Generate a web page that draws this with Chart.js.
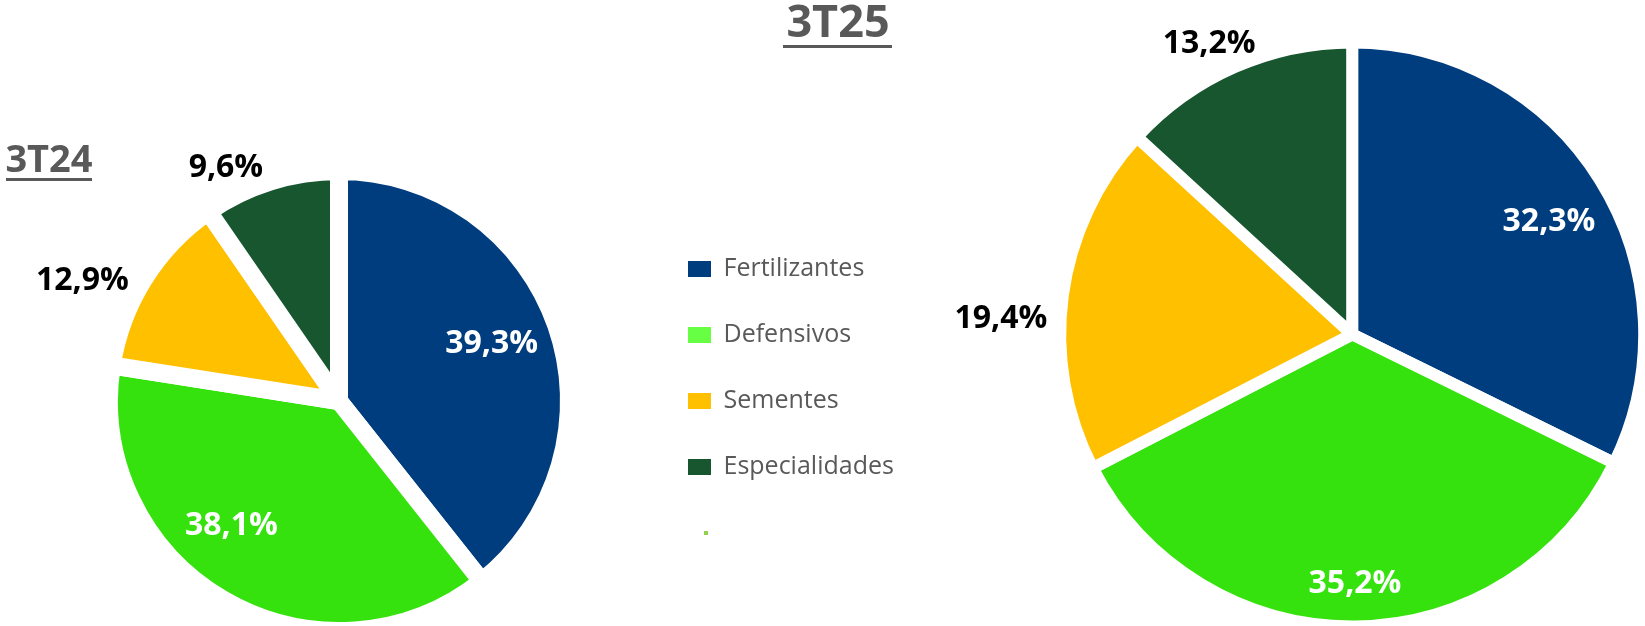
<!DOCTYPE html>
<html lang="pt-BR">
<head>
<meta charset="utf-8">
<title>3T24 x 3T25</title>
<script src="https://cdn.jsdelivr.net/npm/chart.js@4.4.1/dist/chart.umd.min.js"></script>
<style>
  html, body { margin: 0; padding: 0; background: #fff; }
  #stage { position: relative; width: 1645px; height: 626px; overflow: hidden; font-family: 'Open Sans', sans-serif; }
  #stage canvas { position: absolute; top: 0; }
  #pie24 { left: 0; }
  #pie25 { left: 900px; }
  .period { position: absolute; color: #595959; font-weight: 700; text-align: center; white-space: nowrap; }
  .period-line { position: absolute; height: 3px; background: #595959; }
  #title24 { left: 0; top: 138px; width: 98px; font-size: 38px; line-height: 38px; }
  #line24 { left: 6px; top: 178px; width: 86px; }
  #title25 { left: 738px; top: -3px; width: 200px; font-size: 45px; line-height: 45px; }
  #line25 { left: 783px; top: 45px; width: 109px; }
</style>
</head>
<body>
<div id="stage">
  <canvas id="pie24" width="960" height="626"></canvas>
  <canvas id="pie25" width="745" height="626"></canvas>
  <div class="period" id="title24">3T24</div>
  <div class="period-line" id="line24"></div>
  <div class="period" id="title25">3T25</div>
  <div class="period-line" id="line25"></div>
</div>
<script>
// data (share of revenue, %)
const categories = ['Fertilizantes', 'Defensivos', 'Sementes', 'Especialidades'];
const share3T24 = [39.3, 38.1, 12.9, 9.6];
const share3T25 = [32.3, 35.2, 19.4, 13.2];

const sliceColors = ['#003D7E', '#35E20D', '#FFC000', '#17562F'];
const legendColors = ['#003D7E', '#66FF44', '#FFC000', '#17562F'];
const extraMarkColor = '#92D050';
const textGray = '#595959';

const legendFont = { family: "'Open Sans', sans-serif", size: 25 };
const legendPad = 41;
const legendBoxW = 23;

// tiny marker of the empty 5th legend entry
const extraMark = document.createElement('canvas');
extraMark.width = legendBoxW;
extraMark.height = 4;
const em = extraMark.getContext('2d');
em.fillStyle = extraMarkColor;
em.fillRect(16, 0, 4, 4);

// natural legend width, so the pie can be centred where it belongs
const measure = document.createElement('canvas').getContext('2d');
measure.font = `${legendFont.size}px ${legendFont.family}`;
const longest = Math.max(...categories.map(t => measure.measureText(t).width));
const legendWidth = legendPad + legendBoxW + legendFont.size / 2 + longest + 10;
const legendLeft = 647; // boxes start at legendLeft + legendPad

// percentage labels, placed along each slice's middle angle
const sliceLabels = {
    id: 'sliceLabels',
    afterDatasetsDraw(chart, args, opts) {
        const meta = chart.getDatasetMeta(0);
        const values = chart.data.datasets[0].data;
        const ctx = chart.ctx;
        ctx.save();
        ctx.font = `bold ${opts.size}px 'Open Sans', sans-serif`;
        ctx.textAlign = 'center';
        ctx.textBaseline = 'alphabetic';
        meta.data.forEach((arc, i) => {
            const place = opts.place[i];
            const r = (arc.outerRadius - arc.options.borderWidth / 2) * place.r;
            const a = (arc.startAngle + arc.endAngle) / 2 + place.shift * Math.PI / 180;
            const x = arc.x + Math.cos(a) * r;
            const y = arc.y + Math.sin(a) * r + opts.size * 0.357;
            ctx.fillStyle = place.color;
            ctx.fillText(values[i].toFixed(1).replace('.', ',') + '%', x, y);
        });
        ctx.restore();
    }
};

function legendItems() {
    const items = categories.map((name, i) => ({
        text: name,
        fillStyle: legendColors[i],
        strokeStyle: legendColors[i],
        lineWidth: 0,
        pointStyle: 'rect',
        fontColor: textGray,
        hidden: false,
        index: i
    }));
    items.push({
        text: '',
        fillStyle: extraMarkColor,
        strokeStyle: extraMarkColor,
        lineWidth: 0,
        pointStyle: extraMark,
        fontColor: textGray,
        hidden: false,
        index: categories.length
    });
    return items;
}

// 3T24 - left pie, legend on its right
new Chart(document.getElementById('pie24'), {
    type: 'pie',
    data: {
        labels: categories,
        datasets: [{
            data: share3T24,
            backgroundColor: sliceColors,
            borderColor: '#ffffff',
            borderWidth: 18,
            radius: 230
        }]
    },
    options: {
        responsive: false,
        animation: false,
        events: [],
        layout: { padding: { left: 31, right: 960 - legendLeft - legendWidth, top: 176, bottom: 0 } },
        plugins: {
            tooltip: { enabled: false },
            legend: {
                position: 'right',
                labels: {
                    usePointStyle: true,
                    pointStyleWidth: legendBoxW,
                    boxHeight: 16,
                    padding: legendPad,
                    color: textGray,
                    font: legendFont,
                    generateLabels: legendItems
                }
            },
            sliceLabels: {
                size: 32,
                place: [
                    { r: 0.741, shift: -2.1, color: '#ffffff' },
                    { r: 0.738, shift: 11, color: '#ffffff' },
                    { r: 1.286, shift: -6.7, color: '#000000' },
                    { r: 1.18, shift: -8.4, color: '#000000' }
                ]
            }
        }
    },
    plugins: [sliceLabels]
});

// 3T25 - right pie
new Chart(document.getElementById('pie25'), {
    type: 'pie',
    data: {
        labels: categories,
        datasets: [{
            data: share3T25,
            backgroundColor: sliceColors,
            borderColor: '#ffffff',
            borderWidth: 12,
            radius: 292
        }]
    },
    options: {
        responsive: false,
        animation: false,
        events: [],
        layout: { padding: { left: 159.4, right: 0, top: 42.8, bottom: 0 } },
        plugins: {
            tooltip: { enabled: false },
            legend: { display: false },
            sliceLabels: {
                size: 32,
                place: [
                    { r: 0.797, shift: 1.6, color: '#ffffff' },
                    { r: 0.864, shift: -0.1, color: '#ffffff' },
                    { r: 1.23, shift: -4.7, color: '#000000' },
                    { r: 1.14, shift: -2.3, color: '#000000' }
                ]
            }
        }
    },
    plugins: [sliceLabels]
});
</script>
</body>
</html>
